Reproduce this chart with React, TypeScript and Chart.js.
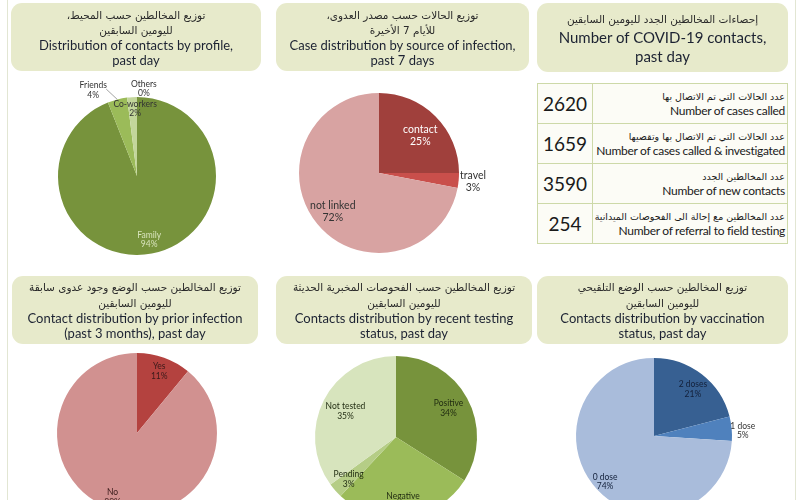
import React, { useEffect, useRef } from "react";
import { Chart, registerables } from "chart.js";

Chart.register(...registerables);

// ---------- DATA ----------
const profileLabels = ["Family", "Friends", "Co-workers", "Others"];
const profileValues = [94, 4, 2, 0];

const sourceLabels = ["contact", "travel", "not linked"];
const sourceValues = [25, 3, 72];

const priorLabels = ["Yes", "No"];
const priorValues = [11, 89];

const testingLabels = ["Positive", "Negative", "Pending", "Not tested"];
const testingValues = [34, 28, 3, 35];

const vaccLabels = ["2 doses", "1 dose", "0 dose"];
const vaccValues = [21, 5, 74];

const statNumbers = [2620, 1659, 3590, 254];
const statArabic = [
  "عدد  الحالات التي تم الاتصال بها",
  "عدد  الحالات التي تم الاتصال بها وتقصيها",
  "عدد المخالطين الجدد",
  "عدد المخالطين مع إحالة الى الفحوصات الميدانية",
];
const statEnglish = [
  "Number of cases called",
  "Number of cases called & investigated",
  "Number of new contacts",
  "Number of referral to field testing",
];

// ---------- STYLE ----------
const BOX_FILL = "#e7eacb";
const TEXT_DARK = "#1c2232";
const LABEL_FONT = "Lato, 'Open Sans', sans-serif";

type Spec = { f: number; shift?: number; color: string; leader?: [number, number] };

function makeLabelPlugin(specs: Spec[], size: number, lineH: number) {
  return {
    id: "sliceLabels",
    afterDatasetsDraw(chart: any) {
      const meta = chart.getDatasetMeta(0);
      const ctx = chart.ctx as CanvasRenderingContext2D;
      const labels = chart.data.labels as string[];
      const values = chart.data.datasets[0].data as number[];
      ctx.save();
      ctx.font = `${size}px ${LABEL_FONT}`;
      ctx.textAlign = "center";
      ctx.textBaseline = "middle";
      meta.data.forEach((arc: any, i: number) => {
        const spec = specs[i];
        if (!spec) return;
        const p = arc.getProps(["x", "y", "startAngle", "endAngle", "outerRadius"], true);
        const trueMid = (p.startAngle + p.endAngle) / 2;
        const mid = trueMid + ((spec.shift || 0) * Math.PI) / 180;
        const lx = p.x + Math.cos(mid) * p.outerRadius * spec.f;
        const ly = p.y + Math.sin(mid) * p.outerRadius * spec.f;
        if (spec.leader) {
          ctx.strokeStyle = "#8c8c8c";
          ctx.lineWidth = 0.8;
          ctx.beginPath();
          ctx.moveTo(p.x + Math.cos(trueMid) * p.outerRadius, p.y + Math.sin(trueMid) * p.outerRadius);
          ctx.lineTo(lx + spec.leader[0], ly + spec.leader[1]);
          ctx.stroke();
        }
        ctx.fillStyle = spec.color;
        ctx.fillText(labels[i], lx, ly - lineH / 2);
        ctx.fillText(`${values[i]}%`, lx, ly + lineH / 2);
      });
      ctx.restore();
    },
  };
}

type PieProps = {
  labels: string[];
  values: number[];
  colors: string[];
  cx: number;
  cy: number;
  r: number;
  specs: Spec[];
  size: number;
  lineH: number;
};

function Pie({ labels, values, colors, cx, cy, r, specs, size, lineH }: PieProps) {
  const ref = useRef<HTMLCanvasElement>(null);
  const pad = 55;
  const S = 2 * r + 2 * pad;
  useEffect(() => {
    if (!ref.current) return;
    const chart = new Chart(ref.current, {
      type: "pie",
      data: {
        labels,
        datasets: [{ data: values, backgroundColor: colors, borderWidth: 0 }],
      },
      options: {
        responsive: false,
        animation: false,
        layout: { padding: pad },
        plugins: {
          legend: { display: false },
          tooltip: { enabled: false },
          title: { display: false },
        },
      },
      plugins: [makeLabelPlugin(specs, size, lineH)],
    } as any);
    return () => chart.destroy();
  }, []);
  return (
    <canvas
      ref={ref}
      width={S}
      height={S}
      style={{ position: "absolute", left: cx - r - pad, top: cy - r - pad, width: S, height: S }}
    />
  );
}

type TitleProps = {
  x: number;
  y: number;
  w: number;
  h: number;
  arabic: string[];
  english: string[];
  enSize: number;
  enLine: number;
  arLine: number;
  padTop: number;
};

function TitleBox({ x, y, w, h, arabic, english, enSize, enLine, arLine, padTop }: TitleProps) {
  return (
    <div
      style={{
        position: "absolute",
        left: x,
        top: y,
        width: w,
        height: h,
        background: BOX_FILL,
        borderRadius: 11,
        boxSizing: "border-box",
        paddingTop: padTop,
        textAlign: "center",
        color: TEXT_DARK,
      }}
    >
      {arabic.map((t, i) => (
        <div
          key={"a" + i}
          dir="rtl"
          style={{ fontFamily: "'DejaVu Sans', sans-serif", fontSize: 10.5, lineHeight: arLine + "px", color: "#2a2a2a" }}
        >
          {t}
        </div>
      ))}
      {english.map((t, i) => (
        <div key={"e" + i} style={{ fontFamily: LABEL_FONT, fontSize: enSize, lineHeight: enLine + "px" }}>
          {t}
        </div>
      ))}
    </div>
  );
}

function StatsTable() {
  return (
    <table
      style={{
        position: "absolute",
        left: 537,
        top: 83,
        width: 251,
        height: 161,
        borderCollapse: "collapse",
        background: "#fcfcf6",
        tableLayout: "fixed",
      }}
    >
      <tbody>
        {statNumbers.map((n, i) => (
          <tr key={i} style={{ height: 40 }}>
            <td
              style={{
                width: 54,
                border: "1px solid #cdd9a8",
                textAlign: "center",
                fontFamily: LABEL_FONT,
                fontSize: 19,
                color: "#1a1a1a",
                padding: 0,
              }}
            >
              {n}
            </td>
            <td
              style={{
                border: "1px solid #cdd9a8",
                textAlign: "right",
                padding: "0 2px 0 0",
                verticalAlign: "middle",
                color: "#1a1a1a",
              }}
            >
              <div dir="rtl" style={{ fontFamily: "'DejaVu Sans', sans-serif", fontSize: 9.5, lineHeight: "15px", whiteSpace: "nowrap" }}>
                {statArabic[i]}
              </div>
              <div style={{ fontFamily: LABEL_FONT, fontSize: 12, lineHeight: "14px", whiteSpace: "nowrap", letterSpacing: -0.3 }}>
                {statEnglish[i]}
              </div>
            </td>
          </tr>
        ))}
      </tbody>
    </table>
  );
}

export default function App() {
  return (
    <div
      style={{
        position: "absolute",
        left: 0,
        top: 0,
        width: 800,
        height: 500,
        overflow: "hidden",
        background: "#ffffff",
      }}
    >
      <div style={{ position: "absolute", left: 7, top: 0, width: 1, height: 500, background: "#e2e6d3" }} />
      <div style={{ position: "absolute", left: 795, top: 0, width: 1, height: 500, background: "#e2e6d3" }} />

      <Pie
        labels={profileLabels}
        values={profileValues}
        colors={["#77933c", "#9bbb59", "#c3d69b", "#d7e4bd"]}
        cx={137}
        cy={176}
        r={79}
        size={8.5}
        lineH={9.5}
        specs={[
          { f: 0.82, color: "#d8e4bc" },
          { f: 1.22, shift: -12.6, color: "#333333", leader: [13, -1] },
          { f: 0.85, shift: 2, color: "#333333" },
          { f: 1.11, shift: 4.5, color: "#333333" },
        ]}
      />
      <Pie
        labels={sourceLabels}
        values={sourceValues}
        colors={["#a0403c", "#c94f4b", "#d8a3a2"]}
        cx={378.5}
        cy={173}
        r={80}
        size={10.5}
        lineH={12}
        specs={[
          { f: 0.7, shift: 2.5, color: "#ffffff" },
          { f: 1.18, color: "#333333" },
          { f: 0.75, color: "#333333" },
        ]}
      />
      <Pie
        labels={priorLabels}
        values={priorValues}
        colors={["#b4423f", "#d19190"]}
        cx={137}
        cy={433}
        r={80}
        size={8.5}
        lineH={9.5}
        specs={[
          { f: 0.82, color: "#3a1a1a" },
          { f: 0.86, shift: 1, color: "#3a1a1a" },
        ]}
      />
      <Pie
        labels={testingLabels}
        values={testingValues}
        colors={["#77933c", "#9bbb59", "#b5cd86", "#d7e4bd"]}
        cx={396}
        cy={437}
        r={81}
        size={8.5}
        lineH={10}
        specs={[
          { f: 0.74, color: "#1f2a10" },
          { f: 0.8, shift: 1, color: "#1f2a10" },
          { f: 0.78, color: "#1f2a10" },
          { f: 0.7, color: "#1f2a10" },
        ]}
      />
      <Pie
        labels={vaccLabels}
        values={vaccValues}
        colors={["#376092", "#4f81bd", "#a9bcdb"]}
        cx={654}
        cy={436}
        r={78}
        size={8.5}
        lineH={9.5}
        specs={[
          { f: 0.78, shift: 2, color: "#13203a" },
          { f: 1.14, shift: 2, color: "#333333" },
          { f: 0.86, color: "#13203a" },
        ]}
      />

      <TitleBox
        x={11}
        y={3}
        w={250}
        h={68}
        arabic={["توزيع المخالطين حسب المحيط،", "لليومين السابقين"]}
        english={["Distribution of contacts by profile,", "past day"]}
        enSize={13}
        enLine={15}
        arLine={15}
        padTop={5}
      />
      <TitleBox
        x={276}
        y={3}
        w={253}
        h={68}
        arabic={["توزيع الحالات حسب مصدر العدوى،", "للأيام 7 الأخيرة"]}
        english={["Case distribution by source of infection,", "past 7 days"]}
        enSize={13}
        enLine={15}
        arLine={15}
        padTop={5}
      />
      <TitleBox
        x={537}
        y={3}
        w={251}
        h={69}
        arabic={["إحصاءات المخالطين الجدد لليومين السابقين"]}
        english={["Number of COVID-19 contacts,", "past day"]}
        enSize={15}
        enLine={19}
        arLine={17}
        padTop={8}
      />
      <TitleBox
        x={12}
        y={276}
        w={246}
        h={68}
        arabic={["توزيع المخالطين حسب الوضع وجود عدوى سابقة", "لليومين السابقين"]}
        english={["Contact distribution by prior infection", "(past 3 months), past day"]}
        enSize={13}
        enLine={15}
        arLine={16}
        padTop={3}
      />
      <TitleBox
        x={276}
        y={276}
        w={256}
        h={68}
        arabic={["توزيع المخالطين حسب الفحوصات المخبرية الحديثة", "لليومين السابقين"]}
        english={["Contacts distribution by recent testing", "status, past day"]}
        enSize={13}
        enLine={15}
        arLine={16}
        padTop={3}
      />
      <TitleBox
        x={537}
        y={276}
        w={251}
        h={68}
        arabic={["توزيع المخالطين حسب الوضع التلقيحي", "لليومين السابقين"]}
        english={["Contacts distribution by vaccination", "status, past day"]}
        enSize={13}
        enLine={15}
        arLine={16}
        padTop={3}
      />

      <StatsTable />
    </div>
  );
}
